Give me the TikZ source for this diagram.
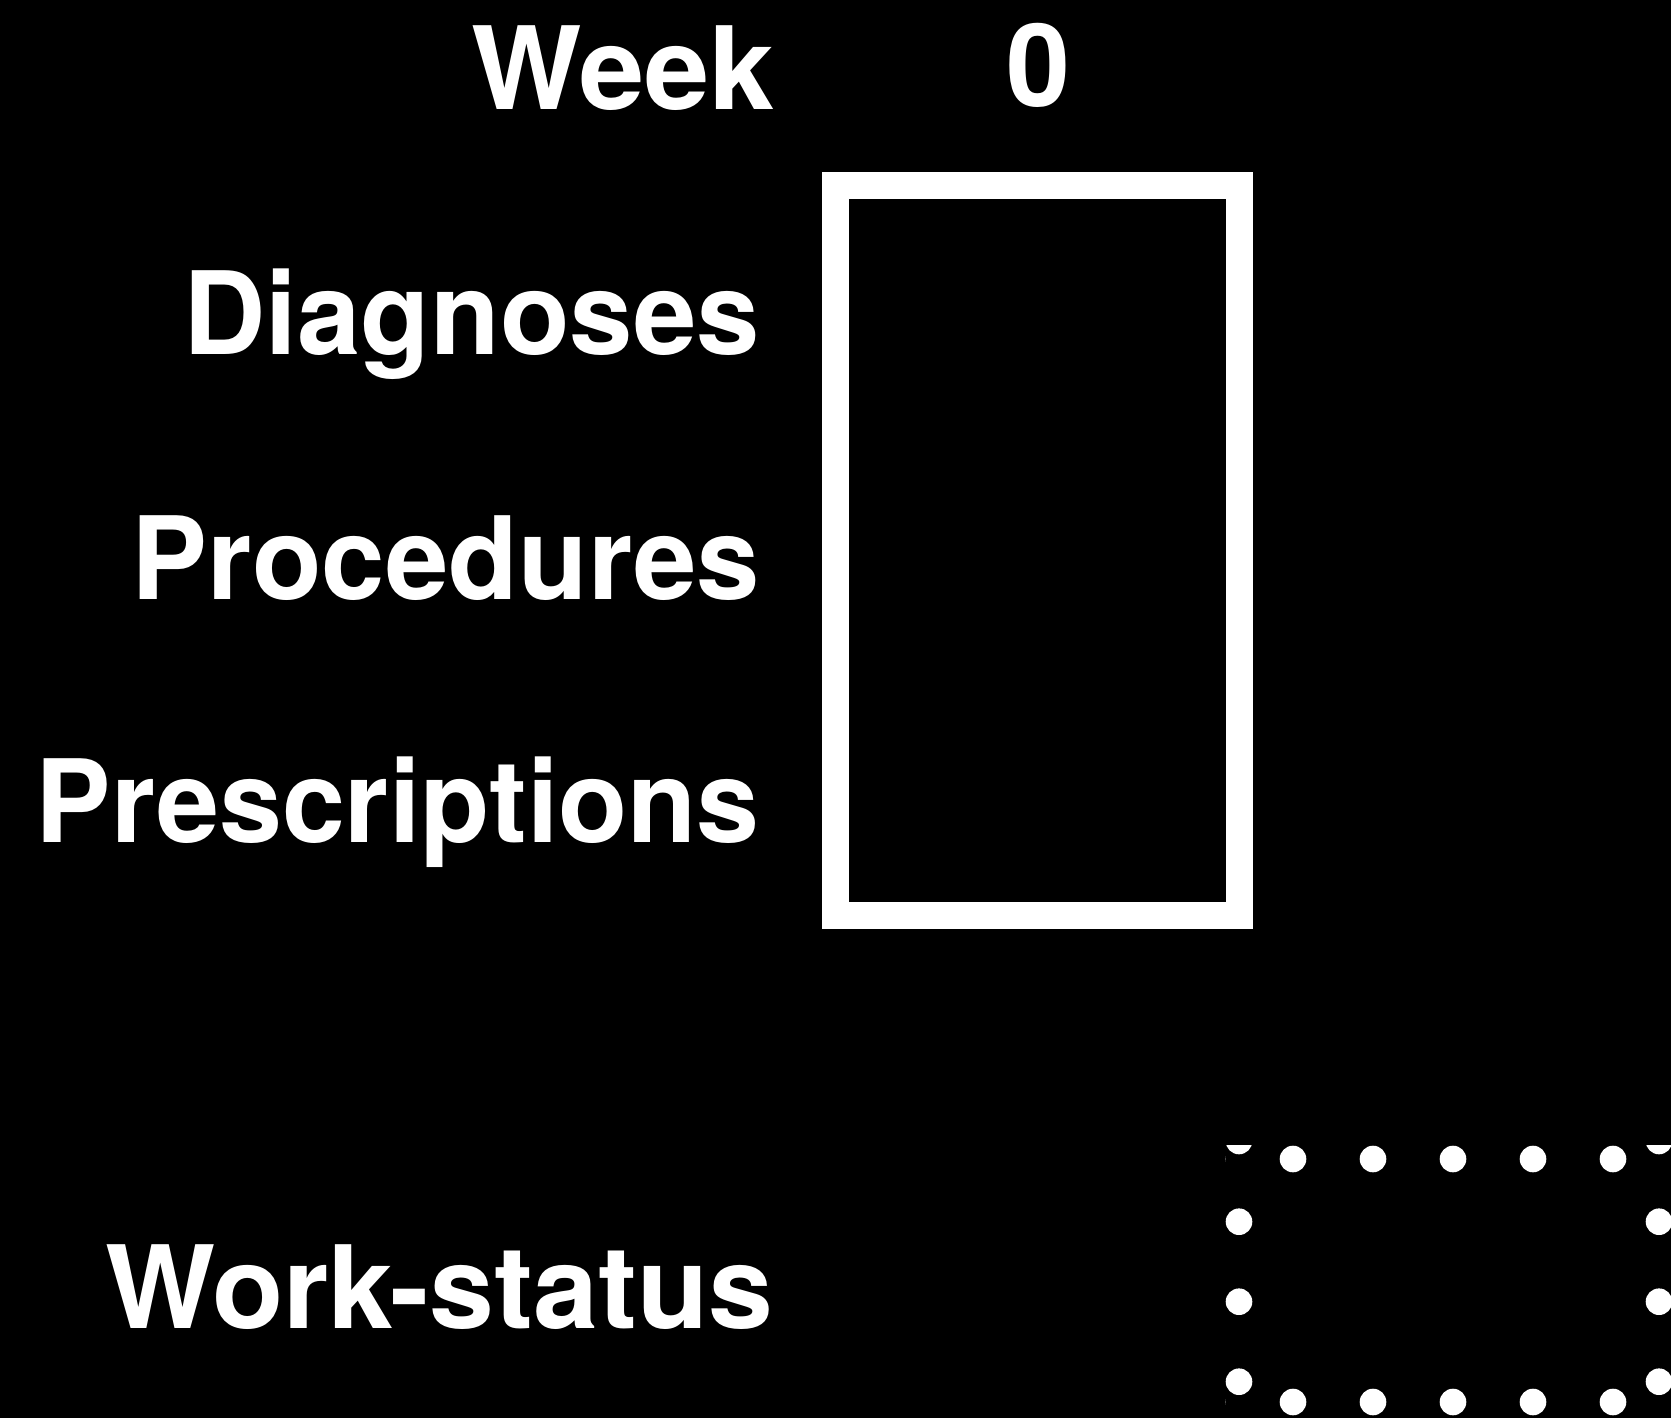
\documentclass[tikz,border=0pt]{standalone}
\usepackage{fontspec}
\setmainfont{TeX Gyre Heros}
\begin{document}
\begin{tikzpicture}[x=1pt,y=1pt,
  label/.style={text=white,font=\fontsize{115}{120}\selectfont\bfseries,inner sep=0pt},
  dot/.style={fill=white}]
% canvas
\fill[black] (0,0) rectangle (1671,-1418);
\useasboundingbox (0,0) rectangle (1671,-1418);

% row labels
\node[label,anchor=base east,xscale=1.018] (week) at (775,-110) {Week};
\node[label,anchor=base] (w0) at (1038,-107) {0};
\node[label,anchor=base east,xscale=0.991] (diag) at (760,-354) {Diagnoses};
\node[label,anchor=base east,xscale=0.9915] (proc) at (760,-599) {Procedures};
\node[label,anchor=base east,xscale=0.985] (presc) at (760,-842) {Prescriptions};
\node[label,anchor=base east,xscale=1.015] (work) at (774,-1328) {Work-status};

% week-0 frame
\node[draw=white,line width=27pt,minimum width=404pt,minimum height=730pt,
      inner sep=0pt] (frame) at (1037.5,-550.5) {};

% dotted frame, cut off at the edges
\begin{scope}
  \clip (1225,-1145) rectangle (1671,-1418);
  \foreach \x in {1212,1293,1373,1453,1533,1613} {
    \fill[dot] (\x,-1159) circle (13.3);
    \fill[dot] (\x,-1402) circle (13.3);
  }
  \foreach \y in {1141,1221.7,1301.7,1381.7} {
    \fill[dot] (1239,-\y) circle (13.3);
    \fill[dot] (1659,-\y) circle (13.3);
  }
\end{scope}
\end{tikzpicture}
\end{document}
